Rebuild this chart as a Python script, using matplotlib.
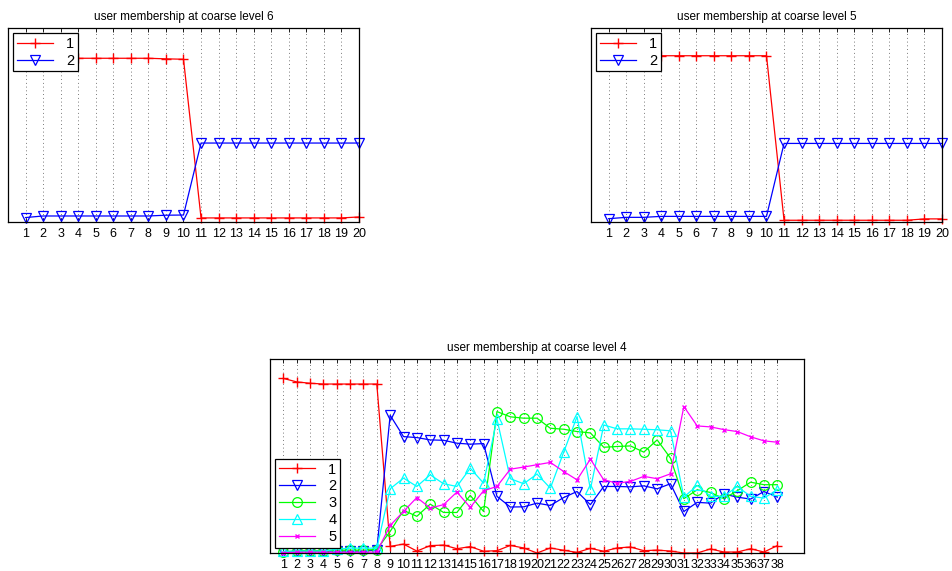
import numpy as np
import matplotlib
matplotlib.use('Agg')
import matplotlib.pyplot as plt

plt.rcParams['font.family'] = ['Liberation Sans', 'DejaVu Sans']

# membership values per user, coarse level 6 (20 users, 2 groups)
users_l6 = list(range(1, 21))
l6_g1 = [0.844, 0.844, 0.844, 0.844, 0.844, 0.844, 0.844, 0.844, 0.841, 0.839,
         0.021, 0.021, 0.021, 0.021, 0.021, 0.021, 0.021, 0.021, 0.021, 0.026]
l6_g2 = [0.023, 0.031, 0.031, 0.031, 0.031, 0.031, 0.031, 0.031, 0.035, 0.036,
         0.407, 0.407, 0.407, 0.407, 0.407, 0.407, 0.407, 0.407, 0.407, 0.407]

# coarse level 5
users_l5 = list(range(1, 21))
l5_g1 = [0.857, 0.857, 0.857, 0.857, 0.857, 0.857, 0.857, 0.857, 0.857, 0.857,
         0.009, 0.009, 0.009, 0.009, 0.009, 0.009, 0.009, 0.009, 0.016, 0.016]
l5_g2 = [0.017, 0.024, 0.024, 0.029, 0.029, 0.029, 0.029, 0.029, 0.029, 0.029,
         0.405, 0.405, 0.405, 0.405, 0.405, 0.405, 0.405, 0.405, 0.405, 0.405]

# coarse level 4 (38 users, 5 groups)
users_l4 = list(range(1, 39))
l4_g1 = [0.900, 0.882, 0.875, 0.871, 0.871, 0.871, 0.871, 0.871, 0.034, 0.046,
         0.010, 0.038, 0.041, 0.022, 0.033, 0.009, 0.012, 0.039, 0.026, 0.000,
         0.026, 0.014, 0.003, 0.024, 0.009, 0.026, 0.031, 0.012, 0.015, 0.010,
         0.000, 0.000, 0.021, 0.005, 0.005, 0.022, 0.005, 0.038]
l4_g2 = [0.003, 0.010, 0.010, 0.010, 0.010, 0.010, 0.010, 0.015, 0.710, 0.600,
         0.595, 0.583, 0.581, 0.566, 0.561, 0.564, 0.292, 0.237, 0.238, 0.257,
         0.245, 0.286, 0.317, 0.249, 0.343, 0.343, 0.341, 0.346, 0.331, 0.357,
         0.214, 0.261, 0.257, 0.304, 0.288, 0.278, 0.317, 0.288]
l4_g3 = [0.005, 0.012, 0.012, 0.012, 0.015, 0.015, 0.015, 0.018, 0.111, 0.220,
         0.189, 0.252, 0.209, 0.209, 0.297, 0.214, 0.729, 0.702, 0.695, 0.695,
         0.643, 0.638, 0.626, 0.619, 0.545, 0.549, 0.552, 0.520, 0.583, 0.489,
         0.280, 0.326, 0.312, 0.280, 0.321, 0.365, 0.352, 0.352]
l4_g4 = [0.008, 0.010, 0.010, 0.010, 0.020, 0.025, 0.025, 0.025, 0.331, 0.386,
         0.343, 0.403, 0.357, 0.343, 0.437, 0.360, 0.691, 0.383, 0.357, 0.407,
         0.334, 0.520, 0.703, 0.329, 0.660, 0.640, 0.640, 0.638, 0.635, 0.630,
         0.288, 0.348, 0.292, 0.292, 0.343, 0.292, 0.283, 0.326]
l4_g5 = [0.002, 0.004, 0.004, 0.004, 0.004, 0.004, 0.004, 0.005, 0.142, 0.214,
         0.286, 0.232, 0.249, 0.314, 0.235, 0.321, 0.343, 0.432, 0.443, 0.455,
         0.467, 0.420, 0.377, 0.484, 0.377, 0.360, 0.369, 0.395, 0.383, 0.408,
         0.755, 0.655, 0.650, 0.636, 0.626, 0.599, 0.578, 0.571]

styles = [
    dict(color='#ff0000', marker='+', ms=7, mew=1.0),
    dict(color='#0000ff', marker='v', ms=7, mfc='none', mew=0.9),
    dict(color='#00ff00', marker='o', ms=7, mfc='none', mew=0.9),
    dict(color='#00ffff', marker='^', ms=7, mfc='none', mew=0.9),
    dict(color='#ff00ff', marker='x', ms=3.5, mew=1.0),
]

W, H = 953, 571
fig = plt.figure(figsize=(W / 100, H / 100), dpi=100)


def add_axes(x0, y0, x1, y1):
    return fig.add_axes([x0 / W, 1 - y1 / H, (x1 - x0) / W, (y1 - y0) / H])


def draw(ax, users, series, title, xmax, legend_loc):
    for i, vals in enumerate(series):
        ax.plot(users, vals, lw=0.9, label=str(i + 1), clip_on=False, **styles[i])
    ax.set_xlim(0, xmax)
    ax.set_ylim(0, 1)
    ax.set_xticks(users)
    ax.set_xticklabels([str(u) for u in users], fontsize=9)
    ax.set_yticks([])
    ax.tick_params(axis='x', direction='in', length=3, width=0.6,
                   top=True, pad=4)
    ax.grid(axis='x', linestyle=(0, (1, 3.5)), color='0.3', linewidth=0.6)
    for sp in ax.spines.values():
        sp.set_linewidth(0.9)
    ax.set_title(title, fontsize=8.5, pad=6)
    leg = ax.legend(loc=legend_loc, fontsize=10.5, fancybox=False,
                    framealpha=1, edgecolor='black', borderpad=0.25,
                    handlelength=2.5, labelspacing=0.2, borderaxespad=0.35,
                    handletextpad=0.9)
    leg.get_frame().set_linewidth(0.9)


ax1 = add_axes(8, 28, 359, 222)
draw(ax1, users_l6, [l6_g1, l6_g2], 'user membership at coarse level 6', 20, 'upper left')

ax2 = add_axes(591, 28, 942, 222)
draw(ax2, users_l5, [l5_g1, l5_g2], 'user membership at coarse level 5', 20, 'upper left')

ax3 = add_axes(270, 359, 804, 553)
draw(ax3, users_l4, [l4_g1, l4_g2, l4_g3, l4_g4, l4_g5],
     'user membership at coarse level 4', 40, 'lower left')

fig.savefig('out.png', dpi=100, facecolor='white')
